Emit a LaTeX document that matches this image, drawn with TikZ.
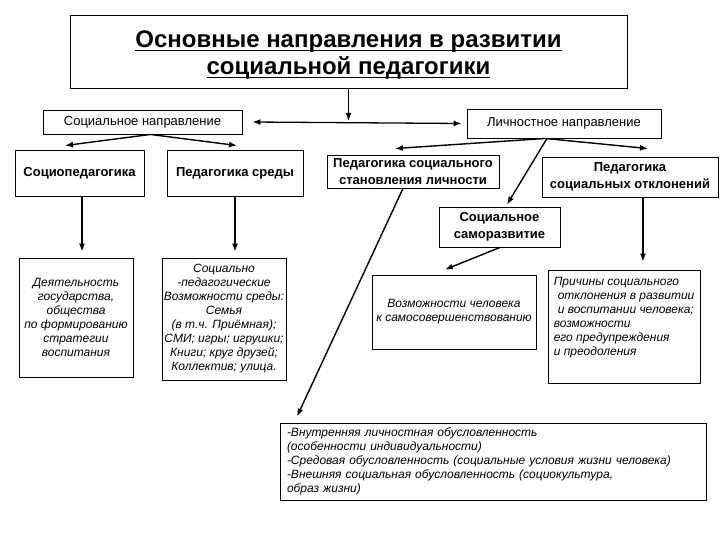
\documentclass[tikz,border=0pt]{standalone}
\usepackage{fontspec}
\setmainfont{Liberation Sans}
\usetikzlibrary{arrows.meta,calc}
\newcommand\myul[1]{\setbox0\hbox{#1}\rlap{\rule[-3.5pt]{\wd0}{1.6pt}}\box0}
\begin{document}
\begin{tikzpicture}[x=1pt,y=-1pt,
  box/.style={draw, line width=0.9pt, inner sep=0pt, align=center},
  arr/.style={line width=1.4pt, -{Latex[length=8pt,width=6pt]}},
  darr/.style={line width=1.3pt, {Latex[length=8pt,width=6pt]}-{Latex[length=8pt,width=6pt]}},
  itx/.style={font=\fontsize{12}{14}\selectfont\itshape},
  bfx/.style={font=\fontsize{13}{16.5}\selectfont\bfseries},
  nmx/.style={font=\fontsize{13}{16}\selectfont}]
\useasboundingbox (0,0) rectangle (720,540);
\fill[white] (0,0) rectangle (720,540);

\node[box, minimum width=557pt, minimum height=73pt] (title) at (348.5,51.5) {};
\node[align=center, inner sep=0pt, font=\fontsize{24}{27}\selectfont\bfseries] (titlet) at ([yshift=-4pt]title.center)
  {\myul{Основные направления в развитии}\\\myul{социальной педагогики}};

\node[box, nmx, minimum width=199pt, minimum height=24pt] (soc) at (142.5,122) {Социальное направление};
\node[box, nmx, minimum width=194pt, minimum height=29pt] (lich) at (564,123.5) {Личностное направление};

\node[box, bfx, minimum width=129pt, minimum height=46pt] (sp) at (79.5,173) {Социопедагогика};
\node[box, bfx, minimum width=136pt, minimum height=46pt] (ps) at (235,173) {Педагогика среды};
\node[box, bfx, minimum width=172pt, minimum height=33pt] (pssl) at (413,171.5) {Педагогика социального\\становления личности};
\node[box, bfx, minimum width=176pt, minimum height=40pt] (pso) at (630,177) {Педагогика\\социальных отклонений};
\node[box, bfx, minimum width=121pt, minimum height=40pt] (ssr) at (499.5,227) {Социальное\\саморазвитие};

\node[box, itx, minimum width=114pt, minimum height=119pt] (dey) at (76,317.5)
  {Деятельность\\государства,\\общества\\по формированию\\стратегии\\воспитания};
\node[box, itx, minimum width=124pt, minimum height=122pt] (sr) at (224,319)
  {Социально\\-педагогические\\Возможности среды:\\Семья\\(в т.ч. Приёмная);\\СМИ; игры; игрушки;\\Книги; круг друзей;\\Коллектив; улица.};
\node[box, itx, minimum width=164pt, minimum height=74pt] (vz) at (454,312)
  {Возможности человека\\к самосовершенствованию};
\node[box, minimum width=152pt, minimum height=113pt] (pr) at (624,326.5) {};
\node[itx, anchor=north west, align=left, inner sep=0pt] (prt) at ([xshift=6pt,yshift=-7pt]pr.north west)
  {Причины социального\\\hspace*{4pt}отклонения в развитии\\\hspace*{4pt}и воспитании человека;\\возможности\\его предупреждения\\и преодоления};
\node[box, itx, align=left, text width=412pt, inner xsep=7pt, minimum height=77pt] (bot) at (493,461.5)
  {-Внутренняя личностная обусловленность\\(особенности индивидуальности)\\-Средовая обусловленность (социальные условия жизни человека)\\-Внешняя социальная обусловленность (социокультура,\\образ жизни)};

% connectors
\coordinate (j) at (title.south |- soc.east);
\draw[arr] (title.south) -- ([yshift=1pt]j);
\draw[darr] ([xshift=10pt]soc.east) -- ([xshift=-5pt]lich.west);

\draw[arr] ([xshift=8pt]soc.south) -- ([xshift=-14.5pt,yshift=4pt]sp.north);
\draw[arr] ([xshift=8pt]soc.south) -- ([xshift=2pt,yshift=4pt]ps.north);

\draw[arr] ([xshift=-19pt]lich.south) -- ([xshift=-18pt,yshift=6pt]pssl.north);
\draw[arr] ([xshift=-19pt]lich.south) -- ([xshift=18pt,yshift=8pt]pso.north);
\draw[arr] ([xshift=-17pt]lich.south) -- ([xshift=7.5pt,yshift=2pt]ssr.north);

\draw[arr] ([xshift=2.5pt]sp.south) -- ([xshift=6pt,yshift=6pt]dey.north);
\draw[arr] (ps.south) -- ([xshift=11pt,yshift=6pt]sr.north);
\draw[arr] ([xshift=-10pt]pssl.south) -- ([xshift=-196pt,yshift=6pt]bot.north);
\draw[arr] ([xshift=0.5pt]ssr.south) -- ([xshift=-9pt,yshift=5pt]vz.north);
\draw[arr] ([xshift=13pt]pso.south) -- ([xshift=19pt,yshift=8pt]pr.north);
\end{tikzpicture}
\end{document}
